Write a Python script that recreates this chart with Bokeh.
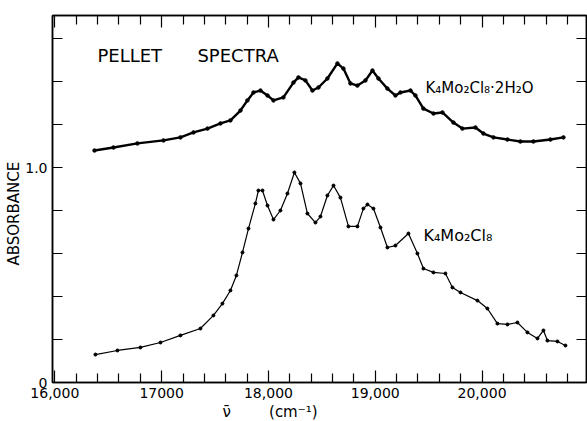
from bokeh.plotting import figure
from bokeh.models import Range1d, LinearAxis, FixedTicker, Label, Title
from bokeh.embed import file_html
from bokeh.resources import INLINE

# K4Mo2Cl8.2H2O (upper trace)
hydrate_wn = [16371, 16549, 16773, 17017, 17176, 17298, 17429, 17551, 17644, 17738,
              17803, 17860, 17925, 17991, 18047, 18140, 18234, 18281, 18346, 18412,
              18468, 18552, 18646, 18702, 18768, 18833, 18908, 18974, 19030, 19114,
              19189, 19236, 19330, 19376, 19451, 19545, 19629, 19732, 19816, 19938,
              20013, 20107, 20238, 20359, 20481, 20640, 20762]
hydrate_abs = [1.079, 1.093, 1.112, 1.126, 1.140, 1.163, 1.181, 1.205, 1.219, 1.265,
               1.312, 1.349, 1.358, 1.335, 1.312, 1.326, 1.395, 1.419, 1.405, 1.358,
               1.372, 1.414, 1.484, 1.460, 1.391, 1.381, 1.405, 1.451, 1.414, 1.367,
               1.335, 1.349, 1.358, 1.335, 1.274, 1.251, 1.256, 1.209, 1.181, 1.186,
               1.158, 1.140, 1.130, 1.121, 1.121, 1.130, 1.140]

# K4Mo2Cl8 (lower trace)
anhyd_wn = [16380, 16586, 16801, 16989, 17176, 17363, 17485, 17569, 17644, 17700,
            17757, 17813, 17878, 17906, 17944, 17991, 18047, 18112, 18178, 18243,
            18300, 18365, 18440, 18487, 18552, 18609, 18674, 18749, 18833, 18889,
            18927, 18983, 19049, 19114, 19189, 19311, 19395, 19451, 19545, 19657,
            19723, 19798, 19957, 20050, 20144, 20238, 20331, 20425, 20519, 20575,
            20612, 20706, 20781]
anhyd_abs = [0.130, 0.149, 0.163, 0.186, 0.219, 0.251, 0.312, 0.367, 0.428, 0.498,
             0.605, 0.716, 0.833, 0.893, 0.893, 0.823, 0.758, 0.800, 0.879, 0.977,
             0.926, 0.786, 0.744, 0.772, 0.870, 0.916, 0.860, 0.726, 0.726, 0.809,
             0.828, 0.809, 0.721, 0.628, 0.637, 0.693, 0.600, 0.530, 0.512, 0.507,
             0.442, 0.419, 0.381, 0.344, 0.274, 0.270, 0.279, 0.233, 0.205, 0.242,
             0.195, 0.191, 0.172]

x_major = [16000, 17000, 18000, 19000, 20000]
x_minor = [16200, 16400, 16600, 16800, 17200, 17400, 17600, 17800, 18200, 18400,
           18600, 18800, 19200, 19400, 19600, 19800, 20200, 20400, 20600, 20800]
x_labels = {16000: "16,000", 17000: "17000", 18000: "18,000", 19000: "19,000", 20000: "20,000"}
y_major = [0, 1]
y_minor = [0.2, 0.4, 0.6, 0.8, 1.2, 1.4, 1.6]
y_labels = {0: "0", 1: "1.0"}

FONT = "DejaVu Sans"
NB = "\u00a0"

p = figure(width=587, height=421, output_backend="svg", toolbar_location=None,
           x_range=Range1d(15978, 20978), y_range=Range1d(0, 1.707),
           x_axis_location=None, y_axis_location=None,
           min_border_left=52, min_border_right=1, min_border_top=15, min_border_bottom=39)
p.grid.visible = False
p.outline_line_color = "black"
p.outline_line_width = 1.5
p.background_fill_color = "white"
p.border_fill_color = "white"


def style_axis(ax, tick_major, tick_minor, labels):
    ax.major_tick_in = tick_major
    ax.major_tick_out = 0
    ax.minor_tick_in = tick_minor
    ax.minor_tick_out = 0
    ax.axis_line_width = 1.5
    ax.major_tick_line_width = 1.2
    ax.minor_tick_line_width = 1.2
    if labels is not None:
        ax.major_label_overrides = labels
        ax.major_label_text_font = FONT
        ax.major_label_text_font_size = "14px"
        ax.major_label_text_color = "black"
        ax.major_label_standoff = 5
    else:
        ax.major_label_text_color = None
        ax.major_label_text_font_size = "1px"
        ax.major_label_standoff = 0
    return ax


def x_axis(labels):
    return style_axis(LinearAxis(ticker=FixedTicker(ticks=x_major, minor_ticks=x_minor)), 12, 9, labels)


def y_axis(labels):
    return style_axis(LinearAxis(ticker=FixedTicker(ticks=y_major, minor_ticks=y_minor)), 10, 10, labels)


p.add_layout(x_axis(x_labels), "below")
p.add_layout(x_axis(None), "above")
p.add_layout(y_axis(y_labels), "left")
p.add_layout(y_axis(None), "right")

# axis titles (placed in the side panels so they are not clipped)
p.add_layout(Title(text="\u03bd\u0304" + NB * 8 + "(cm\u207b\u00b9)", align="left", offset=170,
                   text_font=FONT, text_font_size="15px", text_font_style="normal",
                   text_color="black", standoff=0), "below")
p.add_layout(Title(text="ABSORBANCE", align="left", offset=117,
                   text_font=FONT, text_font_size="15px", text_font_style="normal",
                   text_color="black", standoff=0), "left")

# traces
p.line(hydrate_wn, hydrate_abs, line_color="black", line_width=2.4)
p.scatter(hydrate_wn, hydrate_abs, marker="circle", size=3.5, color="black")
p.line(anhyd_wn, anhyd_abs, line_color="black", line_width=1.2)
p.scatter(anhyd_wn, anhyd_abs, marker="circle", size=3, color="black")


def lab(x, y, text, size):
    p.add_layout(Label(x=x, y=y, text=text, text_font=FONT, text_font_size=size,
                       text_color="black", text_align="left", text_baseline="alphabetic"))


lab(16399, 1.521, "PELLET", "18px")
lab(17335, 1.521, "SPECTRA", "18px")
lab(19470, 1.372, "K\u2084Mo\u2082Cl\u2088\u00b72H\u2082O", "15px")
lab(19451, 0.684, "K\u2084Mo\u2082Cl\u2088", "16px")

open("out.html", "w").write(file_html(p, INLINE))
